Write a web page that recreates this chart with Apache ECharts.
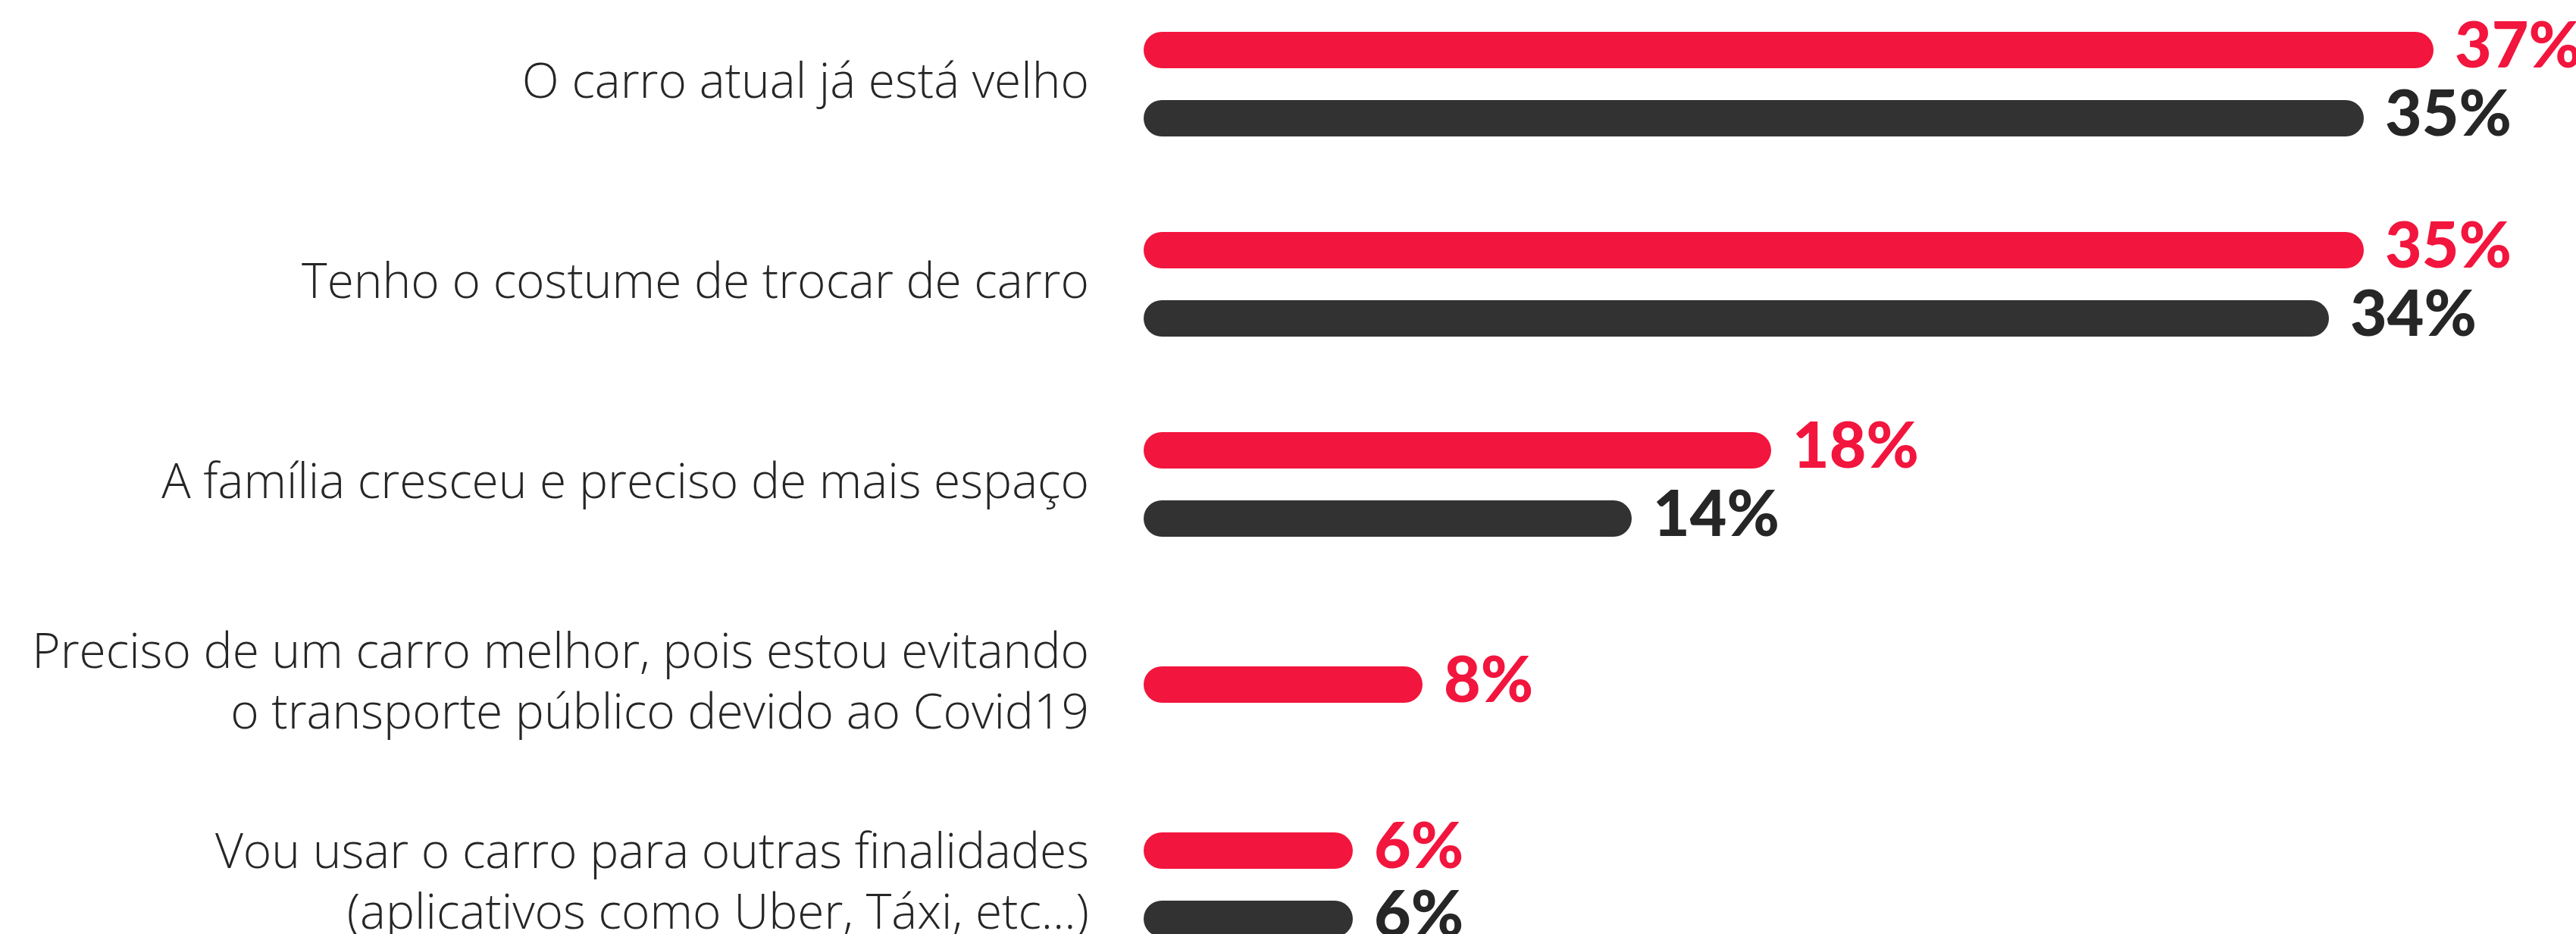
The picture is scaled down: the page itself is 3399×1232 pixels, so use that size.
<!DOCTYPE html>
<html>
<head>
<meta charset="utf-8">
<script src="https://cdn.jsdelivr.net/npm/echarts@6/dist/echarts.min.js"></script>
<style>
  html, body { margin: 0; padding: 0; background: #ffffff; }
  #chart { width: 3399px; height: 1232px; }
</style>
</head>
<body>
<div id="chart"></div>
<script>
const categories = [
  "O carro atual já está velho",
  "Tenho o costume de trocar de carro",
  "A família cresceu e preciso de mais espaço",
  "Preciso de um carro melhor, pois estou evitando\no transporte público devido ao Covid19",
  "Vou usar o carro para outras finalidades\n(aplicativos como Uber, Táxi, etc...)"
];
const redValues = [37, 35, 18, 8, 6];
const blackValues = [35, 34, 14, null, 6];

const RED = '#F2153D';
const DARK = '#333233';

// Red bars paired with a black bar sit on the main axis; a red bar without a partner
// is drawn on a twin category axis so it is centred in its row.
const redPaired = redValues.map((v, i) => blackValues[i] == null ? '-' : v);
const redAlone = redValues.map((v, i) => blackValues[i] == null ? v : '-');
const blackData = blackValues.map(v => v == null ? '-' : v);

function valueLabel(color) {
  return {
    show: true,
    position: 'right',
    distance: 28,
    formatter: '{c}%',
    fontFamily: 'Lato',
    fontWeight: 900,
    fontSize: 84,
    color: color,
    offset: [0, -4]
  };
}

const chart = echarts.init(document.getElementById('chart'), null, { renderer: 'canvas' });
chart.setOption({
  animation: false,
  backgroundColor: '#ffffff',
  grid: { left: 1509, right: 50, top: 111, bottom: 65, containLabel: false, outerBoundsMode: 'none' },
  xAxis: { type: 'value', min: 0, max: 40, show: false },
  yAxis: [
    {
      type: 'category',
      data: categories,
      inverse: true,
      boundaryGap: false,
      axisLine: { show: false },
      axisTick: { show: false },
      splitLine: { show: false },
      axisLabel: {
        margin: 72,
        align: 'right',
        fontFamily: 'Open Sans',
        fontWeight: 300,
        fontSize: 64,
        lineHeight: 80,
        color: '#262626'
      }
    },
    {
      type: 'category',
      data: categories,
      inverse: true,
      boundaryGap: false,
      show: false
    }
  ],
  series: [
    {
      name: 'red',
      type: 'bar',
      yAxisIndex: 0,
      data: redPaired,
      barWidth: 48,
      barGap: '87.5%',
      clip: false,
      itemStyle: { color: RED, borderRadius: 24 },
      label: valueLabel(RED)
    },
    {
      name: 'black',
      type: 'bar',
      yAxisIndex: 0,
      data: blackData,
      barWidth: 48,
      barGap: '87.5%',
      clip: false,
      itemStyle: { color: DARK, borderRadius: 24 },
      label: valueLabel('#262626')
    },
    {
      name: 'redAlone',
      type: 'bar',
      yAxisIndex: 1,
      data: redAlone,
      barWidth: 48,
      clip: false,
      itemStyle: { color: RED, borderRadius: 24 },
      label: valueLabel(RED)
    }
  ]
});
</script>
</body>
</html>
